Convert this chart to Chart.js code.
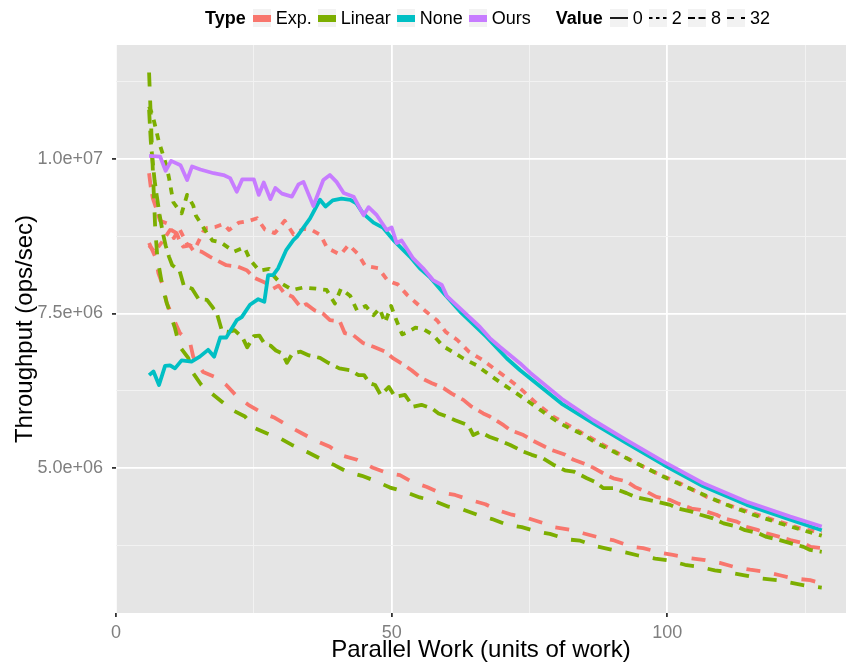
<!DOCTYPE html>
<html>
<head>
<meta charset="utf-8">
<script src="https://cdn.jsdelivr.net/npm/chart.js@4.4.1/dist/chart.umd.min.js"></script>
<style>
  body { margin: 0; background: #fff; }
  #wrap { position: relative; width: 846px; height: 662px; }
  #legend { position: absolute; left: 205px; top: 8px; height: 20px; display: flex; align-items: center;
    font-family: "Liberation Sans", Arial, sans-serif; font-size: 18px; color: #000; white-space: nowrap; }
  #legend b { margin-right: 7px; }
  .key { width: 18px; height: 18px; background: #F2F2F2; display: inline-flex; align-items: center; margin-right: 5px; }
  .key i { display: block; width: 18px; height: 7px; }
  .lab { margin-right: 6px; }
  .gap { display: inline-block; width: 19px; }
</style>
</head>
<body>
<div id="wrap">
  <canvas id="chart" width="846" height="662"></canvas>
  <div id="legend"></div>
</div>
<script>
// throughput values are in millions of ops/sec, pairs are [parallel work, throughput]
const oursPts = [[6,10.05],[8,10.04],[9,9.81],[10,9.97],[11.7,9.9],[12.9,9.66],[13.8,9.88],[15.3,9.83],[17.7,9.77],[19.5,9.74],[20.7,9.69],[21.9,9.47],[22.9,9.67],[25,9.67],[25.9,9.42],[26.8,9.62],[28,9.35],[28.9,9.53],[30.1,9.44],[31.9,9.39],[33.1,9.59],[34,9.63],[35.8,9.24],[37.6,9.66],[38.8,9.74],[40,9.63],[41.3,9.45],[43.1,9.39],[44.9,9.09],[45.8,9.22],[47.3,9.09],[49.1,8.85],[50,8.89],[50.9,8.64],[51.8,8.68],[53.9,8.39],[55.7,8.23],[57.5,8.04],[59.1,7.96],[60,7.78],[62.4,7.58],[66,7.28],[67.8,7.1],[69.6,6.96],[73.3,6.69],[75.1,6.54],[81.1,6.1],[86.6,5.77],[92.6,5.45],[99.3,5.1],[106.5,4.75],[114.4,4.45],[122.3,4.21],[128,4.05]];
const nonePts = [[6,6.5],[6.8,6.56],[7.8,6.34],[8.9,6.65],[9.8,6.66],[10.7,6.61],[11.9,6.74],[13.7,6.72],[15.2,6.8],[16.7,6.91],[17.8,6.8],[18.9,7.11],[20,7.11],[21.9,7.39],[22.8,7.44],[24.3,7.64],[25.8,7.73],[26.9,7.69],[27.6,8.12],[28.5,8.12],[29.4,8.23],[30.9,8.53],[32.2,8.69],[32.8,8.74],[35.2,9.04],[37,9.34],[38,9.23],[39.3,9.33],[40.9,9.36],[42.5,9.34],[43.6,9.28],[44.8,9.12],[46.7,8.97],[48.4,8.89],[50.5,8.67],[53.3,8.42],[55.1,8.23],[56.9,8.09],[59.4,7.83],[62.4,7.53],[67.2,7.12],[70.9,6.77],[73.3,6.58],[80.8,6.04],[86.6,5.72],[92.6,5.4],[99.3,5.05],[106.5,4.7],[114.4,4.4],[122.3,4.16],[128,3.99]];
const lin2Pts = [[6,10.85],[6.6,10.72],[7.2,10.5],[7.8,10.27],[8.6,10.05],[9.2,9.87],[9.6,9.7],[10.4,9.3],[11.2,9.2],[11.9,9.12],[12.9,9.42],[14,9.25],[14.5,9.08],[15.5,8.94],[16.5,8.8],[17.5,8.68],[19,8.65],[21.4,8.5],[23.3,8.57],[24.3,8.37],[26,8.19],[27.8,8.22],[28.5,8.12],[29.7,8],[32,7.88],[34,7.92],[36.3,7.9],[38.2,7.88],[39.7,7.66],[40.8,7.9],[42.5,7.78],[43.7,7.55],[45.3,7.62],[46.7,7.47],[47.8,7.58],[48.8,7.35],[49.9,7.62],[50.8,7.4],[51.9,7.16],[53,7.2],[54.3,7.27],[55.7,7.25],[57.5,7.15],[59.3,6.97],[61.2,6.87],[63,6.77],[65.4,6.66],[67.8,6.5],[70.9,6.31],[73.9,6.13],[76.9,5.94],[80.5,5.72],[84.2,5.56],[87.2,5.4],[91.4,5.21],[95.6,5.02],[99.9,4.83],[104.7,4.64],[110.2,4.42],[115.6,4.24],[122.3,4.05],[128,3.9]];
const lin8Pts = [[6,10.8],[6.3,10.3],[6.6,10],[7,9.65],[7.4,9.4],[7.9,9.1],[8.5,8.8],[9,8.6],[9.6,8.42],[10.2,8.28],[11.5,8.2],[12.3,7.95],[13.8,7.9],[15,7.73],[16.5,7.72],[17.5,7.6],[18.3,7.5],[19.2,7.22],[20.5,7.2],[21.5,7.23],[23,7.1],[23.8,6.95],[25,7.13],[26,7.14],[27,7],[28,6.98],[29,6.9],[30.2,6.85],[31,6.7],[32,6.85],[33.5,6.88],[35,6.82],[37,6.78],[38.5,6.7],[40.5,6.61],[42.5,6.58],[44,6.5],[45,6.5],[46,6.37],[47,6.34],[48,6.18],[49.5,6.31],[50.6,6.15],[52.4,6.18],[53.9,5.99],[55.4,6.02],[57.3,5.96],[58.5,5.88],[60,5.83],[61.5,5.77],[63.9,5.69],[64.8,5.53],[66,5.58],[67.8,5.5],[70.2,5.42],[71.5,5.37],[73.9,5.26],[75.4,5.21],[77.5,5.15],[79.3,5.05],[81.4,4.96],[83,4.94],[85.4,4.83],[86.9,4.77],[88.4,4.67],[90.2,4.67],[92.6,4.59],[94.1,4.53],[96.6,4.48],[98.1,4.45],[100.5,4.4],[102,4.34],[104.4,4.29],[106,4.24],[108.3,4.18],[110.2,4.1],[112.6,4.05],[114.1,3.99],[116.5,3.94],[118,3.88],[120.4,3.83],[122.3,3.78],[124.7,3.72],[125.9,3.67],[128,3.64]];
const lin32Pts = [[6,11.4],[6.6,10],[7.1,8.9],[7.5,8.4],[8.5,7.9],[9.2,7.67],[10,7.45],[10.7,7.26],[11.5,6.97],[13.1,6.78],[14,6.53],[15.5,6.34],[17,6.23],[19.2,6.07],[21,5.94],[23.4,5.83],[25.2,5.64],[27.3,5.56],[29.7,5.48],[31.9,5.37],[34.6,5.26],[37,5.15],[39.7,5.04],[41.8,4.94],[44.6,4.87],[47,4.79],[49.7,4.68],[52.1,4.62],[55.1,4.52],[57.5,4.47],[60.3,4.37],[63,4.32],[65.8,4.23],[68.2,4.17],[71.2,4.07],[73.6,4.04],[76.3,3.97],[78.7,3.93],[82,3.84],[84.2,3.82],[87,3.73],[89.6,3.68],[92.4,3.63],[94.7,3.58],[97.8,3.53],[100.2,3.5],[103.2,3.43],[105.6,3.4],[108.6,3.34],[111,3.31],[114,3.26],[116.8,3.21],[119.9,3.18],[122.3,3.14],[125.3,3.09],[128,3.06]];
const exp2Pts = [[6,8.6],[7,8.5],[8.3,8.65],[9.8,8.85],[10.5,8.72],[11.5,8.87],[12.9,8.62],[14.4,8.56],[15.8,8.82],[16.4,8.88],[18,8.9],[19.5,8.95],[20.5,8.85],[22.3,8.97],[24.2,9],[25.6,9.04],[27,8.86],[28.8,8.8],[30.6,9],[32.2,8.78],[34,8.87],[35.5,8.85],[37.1,8.77],[38.3,8.56],[40.7,8.45],[42.2,8.61],[43.9,8.46],[45.2,8.27],[47.6,8.23],[49.3,8.03],[51.1,7.97],[52.8,7.8],[54.3,7.68],[56.1,7.54],[58.3,7.38],[59.8,7.2],[61.9,7.07],[64,6.88],[66.4,6.75],[68.5,6.61],[71,6.45],[73,6.31],[76.3,6.04],[79.3,5.83],[84.2,5.58],[87.8,5.4],[93.8,5.1],[98.1,4.91],[102.3,4.75],[107.1,4.53],[112,4.37],[117.4,4.21],[124.1,4.02],[128,3.95]];
const exp8Pts = [[6,9.77],[6.3,9.55],[6.7,9.36],[7.4,9.17],[8,9],[9.2,8.96],[10,8.85],[11,8.8],[11.6,8.66],[12.2,8.58],[13.4,8.6],[14,8.52],[15.5,8.5],[17,8.42],[18.5,8.35],[20,8.28],[22,8.26],[23.7,8.2],[25.2,8.07],[27,8],[28.5,7.9],[29.5,7.95],[30.5,7.83],[32,7.77],[33.5,7.6],[34.5,7.65],[36,7.55],[37.5,7.5],[38.8,7.39],[40.6,7.37],[41.5,7.18],[43,7.15],[44.8,7.02],[46.7,6.96],[48.8,6.88],[50.3,6.77],[51.8,6.69],[53.6,6.58],[55.4,6.45],[57.3,6.37],[59.4,6.29],[60.9,6.2],[63,6.1],[64.5,5.99],[66.6,5.88],[67.8,5.83],[70.3,5.69],[71.5,5.61],[73.9,5.53],[75.4,5.45],[77.8,5.34],[79,5.29],[81.5,5.21],[83,5.13],[85.4,5.05],[86.6,5],[89,4.88],[90.2,4.83],[92.6,4.78],[94.1,4.69],[96.3,4.61],[98,4.53],[100.5,4.48],[102,4.42],[104.4,4.34],[106,4.32],[108.9,4.24],[110.2,4.18],[112.6,4.13],[114.1,4.05],[116.5,3.99],[118,3.94],[120.4,3.88],[122.3,3.83],[124.7,3.78],[126,3.72],[128,3.7]];
const exp32Pts = [[6,8.64],[7.1,8.42],[7.7,8.15],[8.6,7.93],[9.2,7.67],[10.4,7.42],[11.6,7.18],[13.4,7.04],[14,6.8],[15.8,6.55],[18,6.47],[20,6.34],[22,6.15],[24,6.02],[26.5,5.89],[28.8,5.81],[31,5.69],[33.7,5.56],[36,5.45],[38.8,5.34],[41,5.2],[43.7,5.13],[46.6,5],[48.8,4.93],[51.5,4.88],[53.7,4.77],[56.4,4.69],[58.4,4.61],[61.5,4.56],[63.9,4.49],[67,4.41],[69,4.32],[71.8,4.24],[74.2,4.2],[77.3,4.11],[79.3,4.04],[82.7,3.99],[84.7,3.94],[88.1,3.86],[90.1,3.83],[93.6,3.72],[95.6,3.7],[99,3.62],[101,3.59],[104,3.54],[106.5,3.51],[109.5,3.46],[111.9,3.4],[115,3.35],[117.4,3.32],[120.4,3.26],[122.8,3.21],[125.9,3.18],[128,3.13]];

const typeNames = ['Exp.', 'Linear', 'None', 'Ours'];
const valueNames = ['0', '2', '8', '32'];
const xTicks = [0, 25, 50, 75, 100, 125];
const xMajor = [0, 50, 100];
const yTicks = [3.75, 5, 6.25, 7.5, 8.75, 10, 11.25];
const yMajor = [5, 7.5, 10];

const typeColors = ['#F8766D', '#7CAE00', '#00BFC4', '#C77CFF'];
const mainDash = { '0': [], '2': [7, 7], '8': [14, 7], '32': [14, 14] };
const keyDash = { '0': '', '2': '3.5 3.5', '8': '7 3.5', '32': '7 7' };
const FONT = '"Liberation Sans", Arial, Helvetica, sans-serif';

Chart.defaults.font.family = FONT;

function lineSet(label, pts, color, value) {
  return {
    label,
    data: pts.map(([x, y]) => ({ x, y })),
    borderColor: color,
    borderWidth: 3.8,
    borderDash: mainDash[value],
    borderCapStyle: 'butt',
    borderJoinStyle: 'round',
    pointRadius: 0,
    tension: 0,
    fill: false
  };
}

function sciLabel(v) {
  return (v * 1e6).toExponential(1).replace(/e([+-])(\d)$/, 'e$10$2');
}

function buildLegend() {
  const el = document.getElementById('legend');
  let html = '<b>Type</b>';
  typeNames.forEach((name, i) => {
    html += `<span class="key"><i style="background:${typeColors[i]}"></i></span><span class="lab">${name}</span>`;
  });
  html += '<span class="gap"></span><b>Value</b>';
  valueNames.forEach(v => {
    html += `<span class="key"><svg width="18" height="18"><line x1="0" y1="9" x2="18" y2="9" stroke="#000" stroke-width="1.8" stroke-dasharray="${keyDash[v]}"/></svg></span><span class="lab">${v}</span>`;
  });
  el.innerHTML = html;
}

const panelBg = {
  id: 'panelBg',
  beforeDraw(chart) {
    const { ctx, chartArea: a } = chart;
    ctx.save();
    ctx.fillStyle = '#E5E5E5';
    ctx.fillRect(a.left, a.top, a.right - a.left, a.bottom - a.top);
    ctx.restore();
  }
};

function isMajor(list, v) {
  return list.some(m => Math.abs(m - v) < 1e-9);
}

function gridOpts(major) {
  return {
    color: c => (c.tick && isMajor(major, c.tick.value)) ? '#FFFFFF' : '#F2F2F2',
    lineWidth: c => (c.tick && isMajor(major, c.tick.value)) ? 1.8 : 1,
    tickColor: c => (c.tick && isMajor(major, c.tick.value)) ? '#333333' : 'rgba(0,0,0,0)',
    tickLength: 4,
    drawTicks: true
  };
}

buildLegend();

new Chart(document.getElementById('chart'), {
  type: 'line',
  data: {
    datasets: [
      lineSet('Ours 0', oursPts, typeColors[3], '0'),
      lineSet('None 0', nonePts, typeColors[2], '0'),
      lineSet('Linear 32', lin32Pts, typeColors[1], '32'),
      lineSet('Linear 8', lin8Pts, typeColors[1], '8'),
      lineSet('Linear 2', lin2Pts, typeColors[1], '2'),
      lineSet('Exp. 32', exp32Pts, typeColors[0], '32'),
      lineSet('Exp. 8', exp8Pts, typeColors[0], '8'),
      lineSet('Exp. 2', exp2Pts, typeColors[0], '2')
    ]
  },
  options: {
    responsive: false,
    animation: false,
    devicePixelRatio: 1,
    events: [],
    layout: { padding: { top: 45, right: 0, bottom: 0, left: 0 } },
    plugins: { legend: { display: false }, tooltip: { enabled: false } },
    scales: {
      x: {
        type: 'linear',
        min: 0,
        max: 132.4,
        afterBuildTicks: s => { s.ticks = xTicks.map(v => ({ value: v })); },
        afterFit: s => { s.height = 49; },
        border: { display: false },
        grid: gridOpts(xMajor),
        ticks: {
          callback: v => isMajor(xMajor, v) ? String(v) : '',
          color: '#7F7F7F',
          font: { size: 18 },
          padding: 5,
          maxRotation: 0,
          autoSkip: false
        },
        title: {
          display: true,
          text: 'Parallel Work (units of work)',
          color: '#000',
          font: { size: 24, lineHeight: 1 },
          padding: { top: 0, bottom: 0 }
        }
      },
      y: {
        type: 'linear',
        min: 2.649,
        max: 11.846,
        afterBuildTicks: s => { s.ticks = yTicks.map(v => ({ value: v })); },
        afterFit: s => { s.width = 116; },
        border: { display: false },
        grid: gridOpts(yMajor),
        ticks: {
          callback: v => isMajor(yMajor, v) ? sciLabel(v) : '',
          color: '#7F7F7F',
          font: { size: 18 },
          padding: 9,
          autoSkip: false
        },
        title: {
          display: true,
          text: 'Throughput (ops/sec)',
          color: '#000',
          font: { size: 24, lineHeight: 1 },
          padding: { top: 13, bottom: 0 }
        }
      }
    }
  },
  plugins: [panelBg]
});
</script>
</body>
</html>
